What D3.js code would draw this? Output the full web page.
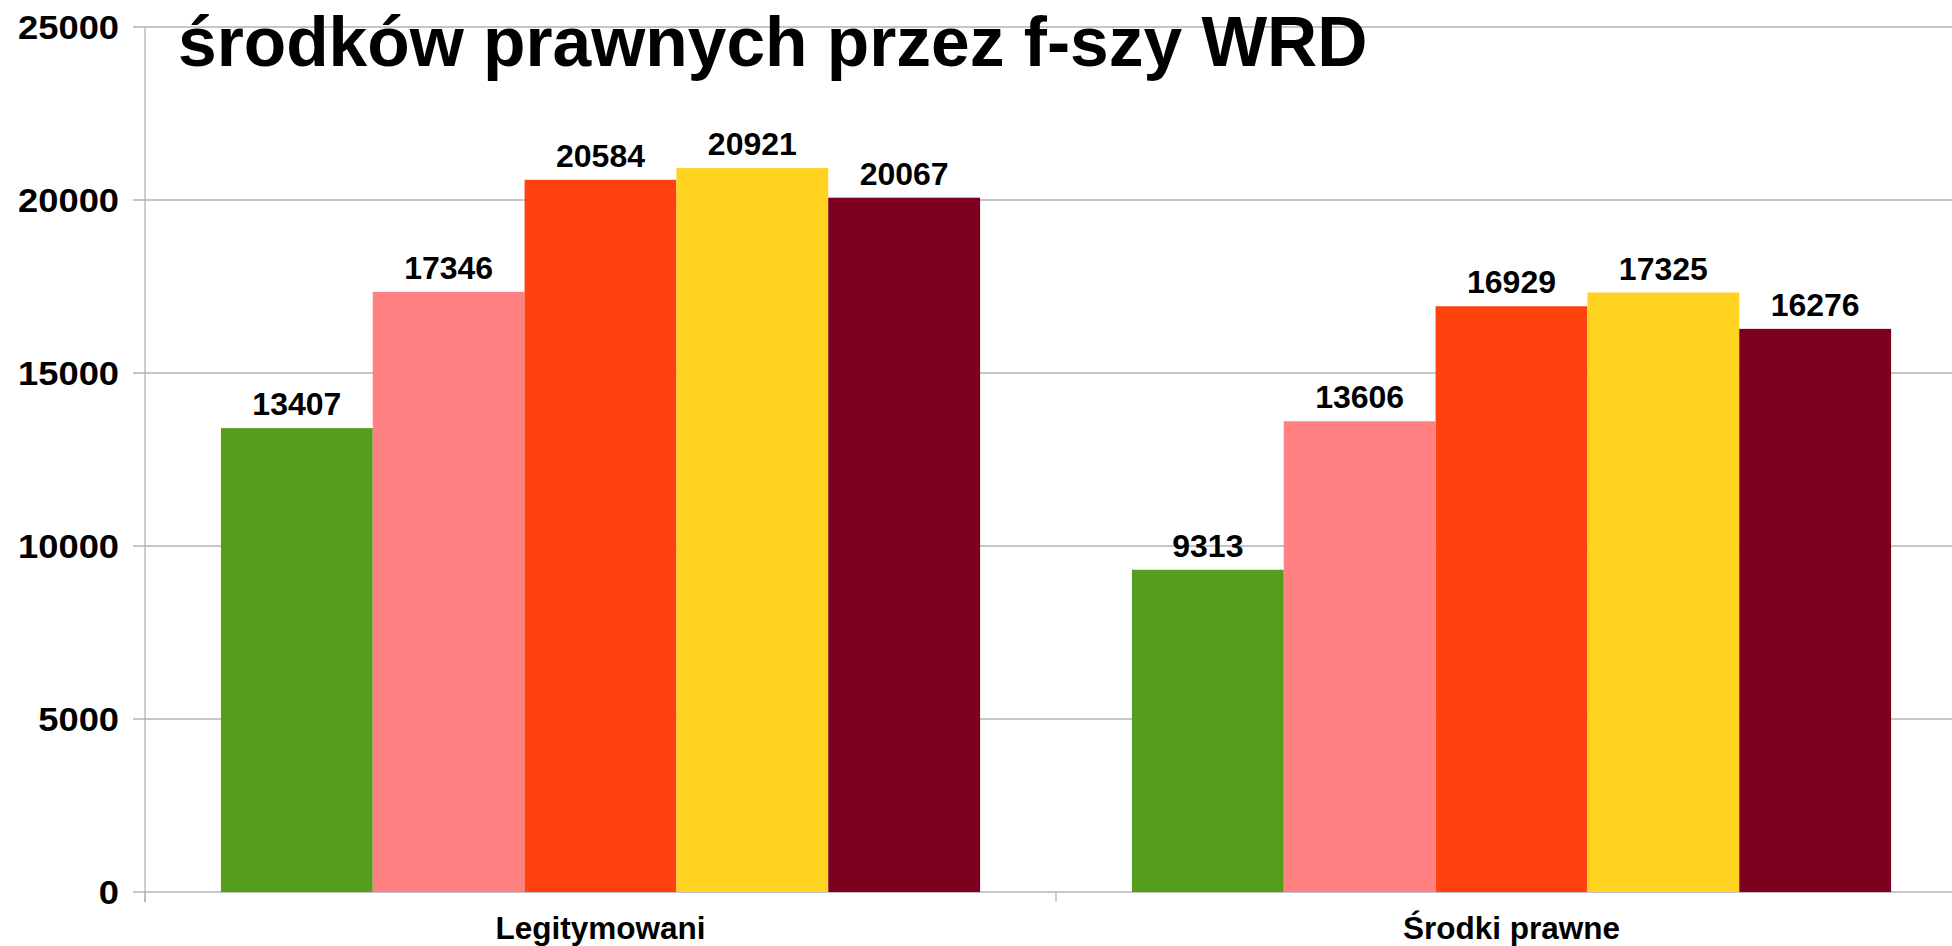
<!DOCTYPE html>
<html>
<head>
<meta charset="utf-8">
<script src="https://cdn.jsdelivr.net/npm/d3@7"></script>
<style>
  body { margin: 0; background: #fff; overflow: hidden; }
  .grid line { stroke: #b3b3b3; stroke-width: 1.3; }
</style>
</head>
<body>
<div id="chart"></div>
<script>
// chart data
var categories = ["Legitymowani", "Środki prawne"];
var seriesNames = ["Seria 1", "Seria 2", "Seria 3", "Seria 4", "Seria 5"];
var legitymowani = [13407, 17346, 20584, 20921, 20067];
var srodkiPrawne = [9313, 13606, 16929, 17325, 16276];
var yTicks = [0, 5000, 10000, 15000, 20000, 25000];
var colors = ["#579d1c", "#ff8080", "#ff420e", "#ffd320", "#7e0021"];
var title = "środków prawnych przez f-szy WRD";

var W = 1952, H = 946;
// plot area (note: "top" is reserved on window, so use plot* names)
var plotLeft = 145, plotRight = 1967, plotTop = 27, plotBottom = 892;

var svg = d3.select("#chart").append("svg")
    .attr("width", W)
    .attr("height", H);

var rows = [legitymowani, srodkiPrawne];

var x0 = d3.scaleBand().domain(categories).range([plotLeft, plotRight]).padding(0);
var x1 = d3.scaleBand().domain(seriesNames).range([0, x0.bandwidth()])
    .paddingInner(0).paddingOuter(0.5);
var y = d3.scaleLinear().domain([0, 25000]).range([plotBottom, plotTop]);

// gridlines
svg.append("g").attr("class", "grid")
    .selectAll("line")
    .data(yTicks)
    .enter().append("line")
    .attr("x1", plotLeft - 12)
    .attr("x2", W)
    .attr("y1", function(d) { return y(d); })
    .attr("y2", function(d) { return y(d); });

// y axis line
svg.append("line")
    .attr("x1", plotLeft).attr("x2", plotLeft)
    .attr("y1", y(25000)).attr("y2", plotBottom + 10)
    .style("stroke", "#b3b3b3").style("stroke-width", 1.3);

// category ticks
svg.selectAll(".ctick")
    .data(categories)
    .enter().append("line")
    .attr("class", "ctick")
    .attr("x1", function(d) { return x0(d); })
    .attr("x2", function(d) { return x0(d); })
    .attr("y1", plotBottom)
    .attr("y2", plotBottom + 10)
    .style("stroke", "#b3b3b3").style("stroke-width", 1.3);

// y tick labels (slightly stretched wide, like the original)
svg.selectAll(".ylab")
    .data(yTicks)
    .enter().append("text")
    .attr("class", "ylab")
    .attr("transform", function(d) { return "translate(119," + y(d) + ") scale(1.1,1)"; })
    .attr("dy", "0.36em")
    .attr("text-anchor", "end")
    .style("font-family", "Liberation Sans")
    .style("font-weight", "bold")
    .style("font-size", "33px")
    .text(function(d) { return d; });

// bars
var groups = svg.selectAll(".cat")
    .data(categories)
    .enter().append("g")
    .attr("class", "cat")
    .attr("transform", function(d) { return "translate(" + x0(d) + ",0)"; });

groups.selectAll("rect")
    .data(function(d, i) {
        return rows[i].map(function(v, j) { return { name: seriesNames[j], value: v, c: colors[j] }; });
    })
    .enter().append("rect")
    .attr("x", function(d) { return x1(d.name); })
    .attr("width", x1.bandwidth())
    .attr("y", function(d) { return y(d.value); })
    .attr("height", function(d) { return plotBottom - y(d.value); })
    .style("fill", function(d) { return d.c; });

groups.selectAll("text.val")
    .data(function(d, i) {
        return rows[i].map(function(v, j) { return { name: seriesNames[j], value: v }; });
    })
    .enter().append("text")
    .attr("class", "val")
    .attr("x", function(d) { return x1(d.name) + x1.bandwidth() / 2; })
    .attr("y", function(d) { return y(d.value) - 13; })
    .attr("text-anchor", "middle")
    .style("font-family", "Liberation Sans")
    .style("font-weight", "bold")
    .style("font-size", "32px")
    .text(function(d) { return d.value; });

// category labels
svg.selectAll(".xlab")
    .data(categories)
    .enter().append("text")
    .attr("class", "xlab")
    .attr("x", function(d) { return x0(d) + x0.bandwidth() / 2; })
    .attr("y", 939)
    .attr("text-anchor", "middle")
    .style("font-family", "Liberation Sans")
    .style("font-weight", "bold")
    .style("font-size", "31.5px")
    .text(function(d) { return d; });

// title
svg.append("text")
    .attr("x", 178)
    .attr("y", 66)
    .style("font-family", "Liberation Sans")
    .style("font-weight", "bold")
    .style("font-size", "69.5px")
    .text(title);
</script>
</body>
</html>
